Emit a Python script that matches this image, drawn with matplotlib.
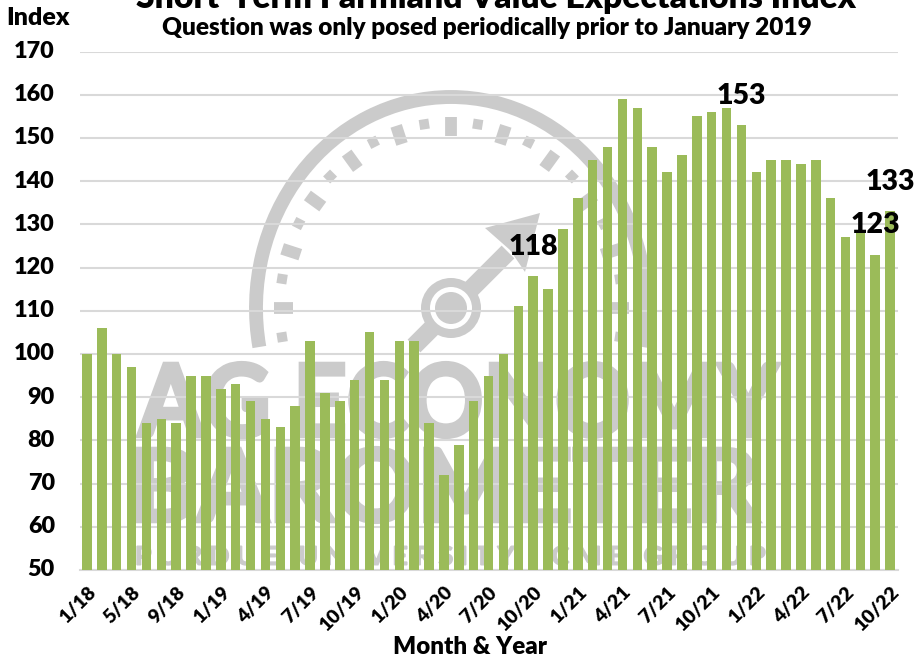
import matplotlib
matplotlib.use('Agg')
import matplotlib.pyplot as plt
from matplotlib.patches import Circle, Arc, Polygon, PathPatch
from matplotlib.textpath import TextPath
from matplotlib.font_manager import FontProperties
from matplotlib.transforms import Affine2D, ScaledTranslation
import numpy as np

plt.rcParams['font.family'] = ['Lato', 'DejaVu Sans']
plt.rcParams['font.weight'] = 'heavy'

values = [100, 106, 100, 97, 84, 85, 84, 95, 95, 92, 93, 89, 85, 83, 88, 103, 91, 89, 94,
          105, 94, 103, 103, 84, 72, 79, 89, 95, 100, 111, 118, 115, 129, 136, 145, 148,
          159, 157, 148, 142, 146, 155, 156, 157, 153, 142, 145, 145, 144, 145, 136, 127,
          128, 123, 133]
tick_labels = ['1/18', '5/18', '9/18', '1/19', '4/19', '7/19', '10/19', '1/20', '4/20', '7/20',
               '10/20', '1/21', '4/21', '7/21', '10/21', '1/22', '4/22', '7/22', '10/22']
y_ticks = [50, 60, 70, 80, 90, 100, 110, 120, 130, 140, 150, 160, 170]
callouts = [30, 44, 53, 54]  # bars that carry a value label

GREEN = '#9BBB59'
WM = '#CBCBCB'
W, H = 916, 656


def fit_text(axis, s, x0, x1, y_top, y_base, stroke):
    # watermark lettering, stretched into a pixel box
    tp = TextPath((0, 0), s, size=100, prop=FontProperties(family='Lato', weight='bold'))
    box = tp.get_extents()
    sx = (x1 - x0) / box.width
    sy = (y_base - y_top) / box.height
    tr = Affine2D().translate(-box.x0, -box.y0).scale(sx, -sy).translate(x0, y_base)
    axis.add_patch(PathPatch(tr.transform_path(tp), facecolor=WM, edgecolor=WM, lw=stroke))


fig = plt.figure(figsize=(W / 100, H / 100), dpi=100)

# watermark sits behind the chart, drawn in pixel coordinates
bg = fig.add_axes([0, 0, 1, 1], zorder=0)
bg.set_xlim(0, W)
bg.set_ylim(H, 0)
bg.axis('off')

cx, cy = 451, 308
bg.add_patch(Arc((cx, cy), 2 * 195, 2 * 211, theta1=168.5, theta2=371.5, color=WM, lw=10))
for k, deg in enumerate(range(-9, 190, 9)):
    t = np.radians(180 - deg)
    long_tick = k % 2 == 1
    ra, rb = (168, 182) if long_tick else (171, 186)
    half = 9.5 if long_tick else 5
    wid = 8.5 if long_tick else 7
    ux, uy = np.cos(t), -np.sin(t)
    px, py = cx + ra * ux, cy + rb * uy
    bg.plot([px - half * ux, px + half * ux], [py - half * uy, py + half * uy],
            color=WM, lw=wid, solid_capstyle='butt')

# needle and hub
bg.plot([414, 508], [346, 252], color=WM, lw=13, solid_capstyle='butt', zorder=2)
bg.add_patch(Polygon([[540, 213], [485, 228], [510, 250], [525, 272]], color=WM, lw=0, zorder=3))
bg.add_patch(Circle((cx, cy), 30, color=WM, lw=0, zorder=3))
bg.add_patch(Circle((cx, cy), 21, color='white', lw=0, zorder=4))
bg.add_patch(Circle((cx, cy), 16, color=WM, lw=0, zorder=5))

fit_text(bg, 'AG ECONOMY', 138, 779, 363, 437, 3)
fit_text(bg, 'BAROMETER', 138, 759, 448, 522, 3)
fit_text(bg, 'P U R D U E   U N I V E R S I T Y  -  C M E   G R O U P', 137, 765, 546, 565, 1)

ax = fig.add_axes([80 / W, 1 - 570 / H, (898 - 80) / W, (570 - 51.5) / H], zorder=1)
ax.patch.set_alpha(0)

x = np.arange(len(values))
ax.bar(x, np.array(values) - 50, bottom=50, width=0.64, color=GREEN, zorder=3)
ax.set_xlim(-0.47, len(values) - 1 + 0.53)
ax.set_ylim(50, 170)
ax.set_yticks(y_ticks)
ax.tick_params(axis='y', length=0, labelsize=16.8, pad=18)
ax.set_xticks(x[::3])
ax.set_xticklabels(tick_labels, rotation=45, ha='right', rotation_mode='anchor', fontsize=14)
ax.tick_params(axis='x', length=0, pad=10)
ax.grid(axis='y', color='#D9D9D9', lw=1.5, zorder=1)
ax.set_axisbelow(True)
for s in ['top', 'right', 'left']:
    ax.spines[s].set_visible(False)
ax.spines['bottom'].set_color('#D9D9D9')
ax.spines['bottom'].set_linewidth(1.5)

# y labels sit a touch higher than the Lato metrics put them
nudge = ScaledTranslation(0, 2 / 100, fig.dpi_scale_trans)
for lab in ax.get_yticklabels():
    lab.set_transform(lab.get_transform() + nudge)

for i in callouts:
    ax.annotate(str(values[i]), (i, values[i]), xytext=(0, 21), textcoords='offset points',
                ha='center', va='center', fontsize=20.5, color='black', zorder=5)

fig.text(496.5 / W, 1 - 8 / H, 'Short-Term Farmland Value Expectations Index', ha='center',
         va='baseline', fontsize=24.2)
fig.text(487 / W, 1 - 35 / H, 'Question was only posed periodically prior to January 2019',
         ha='center', va='baseline', fontsize=17.6)
fig.text(37.5 / W, 1 - 25 / H, 'Index', ha='center', va='baseline', fontsize=18)
fig.text(470 / W, 1 - 654 / H, 'Month & Year', ha='center', va='baseline', fontsize=17.4)

fig.savefig('out.png', dpi=100)
